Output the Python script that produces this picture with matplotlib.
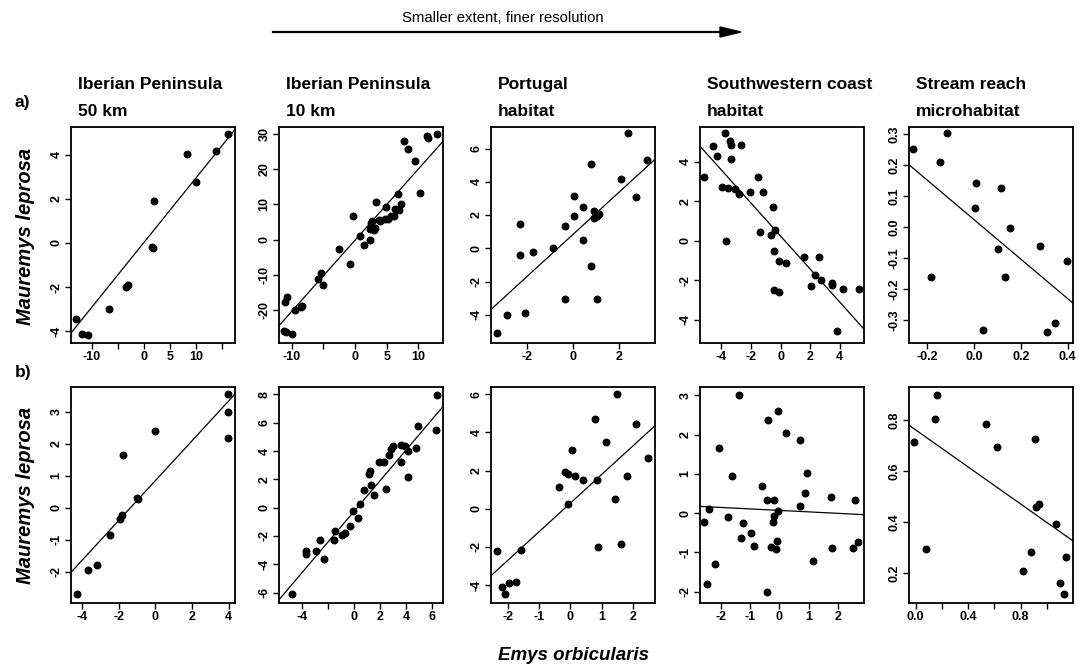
import matplotlib.pyplot as plt
import numpy as np

plt.rcParams['font.family'] = ['Liberation Sans', 'DejaVu Sans']
plt.rcParams['axes.unicode_minus'] = False

# Residual scores, Emys orbicularis (x) vs Mauremys leprosa (y)
# Row a)
a1_x = [-12.9, -11.9, -10.6, -6.7, -3.4, -3.0, 1.5, 1.8, 2.0, 8.3, 10.1, 13.9, 16.1]
a1_y = [-3.45, -4.1, -4.15, -2.98, -2.0, -1.9, -0.2, -0.25, 1.92, 4.03, 2.78, 4.18, 4.93]

a2_x = [-11.0, -10.7, -9.5, -8.6, -8.3, -5.8, -5.4, -5.1, -2.5, -0.8, -0.26, 0.8, 1.35,
        2.3, 2.4, 2.6, 2.7, 3.0, 3.2, 3.3, 3.75, 4.0, 4.8, 4.9, 5.2, 5.7, 6.1, 6.35,
        6.8, 7.0, 7.3, 7.8, 8.3, 9.4, 10.3, 11.4, 11.5, 13.0, -11.2, -10.9, -10.0]
a2_y = [-17.8, -16.4, -20.2, -19.1, -19.0, -11.2, -9.5, -13.0, -2.7, -7.1, 6.6, 0.9, -1.5,
        0.0, 3.0, 4.7, 5.2, 2.7, 3.3, 10.6, 5.7, 5.2, 5.9, 9.2, 5.9, 6.6, 6.6, 8.8,
        13.1, 8.3, 10.1, 28.0, 25.8, 22.3, 13.3, 29.6, 28.9, 30.1, -26.0, -26.4, -27.0]

a3_x = [-2.87, -2.07, -3.3, -2.29, -2.29, -1.75, -0.88, -0.35, -0.35, 0.06, 0.06, 0.45,
        0.45, 0.81, 0.81, 0.93, 0.94, 1.04, 1.12, 1.04, 2.1, 2.39, 2.74, 3.25]
a3_y = [-4.0, -3.88, -5.08, 1.46, -0.4, -0.24, 0.02, 1.32, -3.08, 3.12, 1.96, 2.5,
        0.5, 5.06, -1.04, 2.26, 1.8, 1.96, 2.06, -3.08, 4.16, 6.96, 3.06, 5.3]

a4_x = [-5.16, -4.59, -4.32, -3.98, -3.75, -3.7, -3.57, -3.45, -3.34, -3.34, -3.11, -2.84,
        -2.68, -2.05, -1.55, -1.41, -1.18, -0.64, -0.52, -0.45, -0.41, -0.45, -0.11, -0.11,
        0.34, 1.55, 2.05, 2.32, 2.61, 2.73, 3.45, 3.45, 4.2, 5.27, 3.8]
a4_y = [3.22, 4.78, 4.28, 2.72, 5.45, -0.03, 2.67, 5.05, 4.83, 4.12, 2.62, 2.37,
        4.83, 2.47, 3.22, 0.45, 2.47, 0.3, 1.72, -0.5, 0.55, -2.5, -2.58, -1.03,
        -1.13, -0.8, -2.3, -1.72, -0.8, -1.97, -2.12, -2.25, -2.42, -2.42, -4.55]

a5_x = [-0.258, -0.116, -0.145, -0.184, 0.011, 0.006, 0.116, 0.153, 0.104, 0.132, 0.281,
        0.396, 0.04, 0.313, 0.346]
a5_y = [0.252, 0.303, 0.211, -0.16, 0.144, 0.061, 0.128, -0.002, -0.071, -0.16, -0.061,
        -0.109, -0.332, -0.337, -0.309]

# Row b)
b1_x = [3.96, 3.96, 3.96, -0.03, -1.75, -0.93, -1.02, -1.84, -1.93, -2.51, -3.2, -3.7, -4.3]
b1_y = [3.57, 3.0, 2.17, 2.4, 1.65, 0.26, 0.31, -0.23, -0.36, -0.86, -1.8, -1.95, -2.7]

b2_x = [6.36, 6.27, 4.87, 4.75, 4.17, 4.17, 3.87, 3.61, 3.59, 2.96, 2.86, 2.65, 2.27, 1.94,
        2.45, 1.52, 1.31, 1.14, 1.21, 0.76, 0.43, 0.3, -0.07, -0.3, -0.68, -0.93, -1.46,
        -1.52, -2.65, -2.95, -3.66, -3.71, -2.32, -4.8]
b2_y = [7.92, 5.46, 5.76, 4.22, 2.18, 3.98, 4.33, 4.4, 3.19, 4.33, 4.17, 3.75, 3.19, 3.23,
        1.29, 0.89, 1.59, 2.34, 2.58, 1.24, 0.23, -0.7, -0.23, -1.29, -1.8, -1.92, -1.64,
        -2.27, -2.3, -3.04, -3.04, -3.26, -3.6, -6.1]

b3_x = [-2.34, -1.59, -0.37, -0.07, -0.17, -0.09, 0.05, 0.15, 0.39, 0.78, 0.84, 0.89, 1.12,
        1.42, 1.5, 1.6, 1.81, 2.09, 2.49, -2.2, -2.09, -1.96, -1.74]
b3_y = [-2.21, -2.17, 1.13, 0.26, 1.91, 1.84, 3.06, 1.74, 1.53, 4.7, 1.53, -1.98, 3.5,
        0.52, 6.0, -1.86, 1.74, 4.43, 2.66, -4.12, -4.47, -3.91, -3.83]

b4_x = [-1.4, -0.06, -0.39, 0.21, 0.69, -2.07, -1.63, 0.93, -0.6, 0.87, -0.42, -0.19, 1.78,
        2.6, 0.72, -0.04, -2.4, -2.57, -1.76, -1.24, -0.19, -0.22, -0.96, -1.31, -0.07,
        -0.86, -0.29, -0.11, 1.79, 2.53, 2.71, 1.16, -2.21, -2.47, -0.42]
b4_y = [3.0, 2.61, 2.36, 2.05, 1.87, 1.66, 0.95, 1.03, 0.69, 0.52, 0.33, 0.32, 0.41,
        0.32, 0.19, 0.06, 0.11, -0.23, -0.11, -0.25, -0.08, -0.23, -0.51, -0.63, -0.71,
        -0.85, -0.86, -0.92, -0.9, -0.88, -0.74, -1.21, -1.3, -1.81, -2.0]

b5_x = [-0.01, 0.15, 0.16, 0.08, 0.54, 0.62, 0.91, 0.92, 0.94, 1.07, 0.88, 1.15, 0.82,
        1.1, 1.13]
b5_y = [0.714, 0.803, 0.899, 0.296, 0.783, 0.695, 0.726, 0.46, 0.473, 0.394, 0.283, 0.265,
        0.21, 0.16, 0.12]

# Fitted regression lines (intercept, slope), a1..a5 then b1..b5
fit_icpt = [0.01, -0.2, 0.83, 0.235, 0.025, 0.853, -0.26, 0.3, 0.068, 0.762]
fit_slope = [0.293, 2.03, 1.264, -0.834, -0.639, 0.622, 1.085, 1.50, -0.0374, -0.363]

col_titles = [('Iberian Peninsula', '50 km'), ('Iberian Peninsula', '10 km'),
              ('Portugal', 'habitat'), ('Southwestern coast', 'habitat'),
              ('Stream reach', 'microhabitat')]

panels = [
    # x, y, xlim, ylim, xticks, xlabels, yticks, ylabels
    (a1_x, a1_y, (-13.95, 17.5), (-4.53, 5.25), [-10, -5, 0, 5, 10, 15],
     ['-10', '', '0', '5', '10', ''], [-4, -2, 0, 2, 4], None),
    (a2_x, a2_y, (-12.0, 13.9), (-29.5, 32.1), [-10, -5, 0, 5, 10],
     ['-10', '', '0', '5', '10'], [-20, -10, 0, 10, 20, 30], None),
    (a3_x, a3_y, (-3.57, 3.58), (-5.7, 7.3), [-2, 0, 2], None, [-4, -2, 0, 2, 4, 6], None),
    (a4_x, a4_y, (-5.45, 5.64), (-5.17, 5.75), [-4, -2, 0, 2, 4], None,
     [-4, -2, 0, 2, 4], None),
    (a5_x, a5_y, (-0.277, 0.423), (-0.374, 0.324), [-0.2, 0.0, 0.2, 0.4],
     ['-0.2', '0.0', '0.2', '0.4'], [-0.3, -0.2, -0.1, 0.0, 0.1, 0.2, 0.3],
     ['-0.3', '-0.2', '-0.1', '0.0', '0.1', '0.2', '0.3']),
    (b1_x, b1_y, (-4.62, 4.35), (-2.98, 3.78), [-4, -2, 0, 2, 4], None,
     [-2, -1, 0, 1, 2, 3], None),
    (b2_x, b2_y, (-5.76, 6.82), (-6.74, 8.52), [-4, -2, 0, 2, 4, 6],
     ['-4', '', '0', '2', '4', '6'], [-6, -4, -2, 0, 2, 4, 6, 8], None),
    (b3_x, b3_y, (-2.54, 2.7), (-4.94, 6.38), [-2, -1, 0, 1, 2], None,
     [-4, -2, 0, 2, 4, 6], None),
    (b4_x, b4_y, (-2.72, 2.9), (-2.29, 3.21), [-2, -1, 0, 1, 2], None,
     [-2, -1, 0, 1, 2, 3], None),
    (b5_x, b5_y, (-0.05, 1.2), (0.083, 0.93), [0.0, 0.2, 0.4, 0.6, 0.8, 1.0],
     ['0.0', '', '0.4', '', '0.8', ''], [0.2, 0.4, 0.6, 0.8], ['0.2', '0.4', '0.6', '0.8']),
]

W, H = 1079, 670
fig = plt.figure(figsize=(W / 100, H / 100), dpi=100)

lefts = [71, 279, 491, 700, 909]
tops = [127, 387]
box_w, box_h = 164, 216

for k, (x, y, xl, yl, xt, xtl, yt, ytl) in enumerate(panels):
    row, col = divmod(k, 5)
    ax = fig.add_axes([lefts[col] / W, 1 - (tops[row] + box_h) / H, box_w / W, box_h / H])
    ax.scatter(x, y, s=22, color='black', zorder=3)
    xx = np.array(xl)
    ax.plot(xx, fit_icpt[k] + fit_slope[k] * xx, color='black', lw=0.9)
    ax.set_xlim(xl)
    ax.set_ylim(yl)
    ax.set_xticks(xt)
    if xtl is not None:
        ax.set_xticklabels(xtl)
    ax.set_yticks(yt)
    if ytl is not None:
        ax.set_yticklabels(ytl)
    for lab in ax.get_yticklabels():
        lab.set_rotation(90)
        lab.set_va('center')
    ax.tick_params(labelsize=9, length=4, width=1, pad=2)
    for lab in ax.get_xticklabels() + ax.get_yticklabels():
        lab.set_fontweight('bold')
    for sp in ax.spines.values():
        sp.set_linewidth(1.3)
    if row == 0:
        line1, line2 = col_titles[col]
        fig.text((lefts[col] + 7) / W, 1 - 89 / H, line1, ha='left', va='baseline',
                 fontsize=12.5, fontweight='bold')
        fig.text((lefts[col] + 7) / W, 1 - 116 / H, line2, ha='left', va='baseline',
                 fontsize=12.5, fontweight='bold')

fig.text(22 / W, 1 - 103 / H, 'a)', fontsize=12.5, fontweight='bold', ha='center', va='center')
fig.text(23 / W, 1 - 372 / H, 'b)', fontsize=12.5, fontweight='bold', ha='center', va='center')

for yc in (236, 495):
    fig.text(26 / W, 1 - yc / H, 'Mauremys leprosa', rotation=90, ha='center', va='center',
             fontsize=14.5, fontweight='bold', fontstyle='italic')

fig.text(573 / W, 1 - 656 / H, 'Emys orbicularis', ha='center', va='center',
         fontsize=13.5, fontweight='bold', fontstyle='italic')

# Scale direction arrow along the top
fig.text(503 / W, 1 - 18 / H, 'Smaller extent, finer resolution', ha='center', va='center',
         fontsize=10.7)
fig.add_artist(plt.Line2D([273 / W, 724 / W], [1 - 32 / H, 1 - 32 / H], color='black', lw=1.6))
fig.patches.append(plt.Polygon([[720 / W, 1 - 27 / H], [741 / W, 1 - 32 / H], [720 / W, 1 - 37 / H]],
                               closed=True, color='black', transform=fig.transFigure))

fig.savefig('out.png', dpi=100)
